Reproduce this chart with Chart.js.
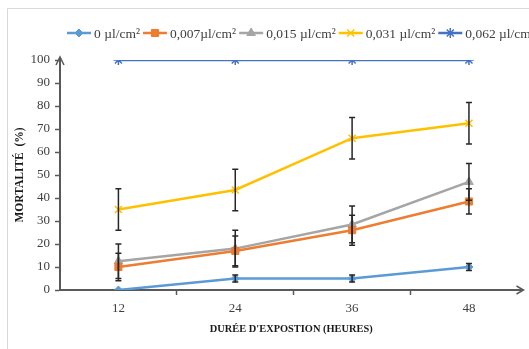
<!DOCTYPE html>
<html>
<head>
<meta charset="utf-8">
<script src="https://cdn.jsdelivr.net/npm/chart.js@4.4.1/dist/chart.umd.min.js"></script>
<style>
  html, body { margin: 0; padding: 0; background: #fff; overflow: hidden; }
  #wrap { position: relative; width: 529px; height: 349px; }
</style>
</head>
<body>
<div id="wrap"><canvas id="mortalityChart"></canvas></div>
<script>
// values
var hours = [12, 24, 36, 48];
var seriesNames = ['0 µl/cm²', '0,007µl/cm²', '0,015 µl/cm²', '0,031 µl/cm²', '0,062 µl/cm²'];
var dose0 = [0, 5, 5, 10];
var dose007 = [10, 17, 26, 38.5];
var dose015 = [12.5, 18, 28.5, 47];
var dose031 = [35, 43.5, 66, 72.5];
var dose062 = [100, 100, 100, 100];
// standard deviations (error bars)
var err0 = [0, 1.5, 1.5, 1.5];
var err007 = [6, 6.5, 6.5, 5.5];
var err015 = [7.5, 8, 8, 8];
var err031 = [9, 9, 9, 9];
var err062 = [0, 0, 0, 0];
var yTicks = [0, 10, 20, 30, 40, 50, 60, 70, 80, 90, 100];

var colors = ['#5B9BD5', '#ED7D31', '#A5A5A5', '#FFC000', '#4472C4'];
var markers = ['rectRot', 'rect', 'triangle', 'crossRot', 'star'];
var radii = [4, 5, 5, 5, 5];
var allValues = [dose0, dose007, dose015, dose031, dose062];
var allErrors = [err0, err007, err015, err031, err062];
var serif = '"Liberation Serif", "Times New Roman", serif';
var axisColor = '#595959';

var datasets = allValues.map(function (vals, i) {
    return {
        label: seriesNames[i],
        data: vals.map(function (v, j) { return { x: hours[j], y: v }; }),
        errors: allErrors[i],
        borderColor: colors[i],
        backgroundColor: colors[i],
        borderWidth: 2.5,
        pointStyle: markers[i],
        pointRadius: radii[i],
        pointBorderWidth: (markers[i] === 'crossRot' || markers[i] === 'star') ? 1.5 : 1,
        tension: 0
    };
});

// in-between tick marks for the category-like x axis
var xTickValues = [];
hours.forEach(function (h, i) {
    xTickValues.push(h);
    if (i < hours.length - 1) xTickValues.push((h + hours[i + 1]) / 2);
});

var framePlugin = {
    id: 'frame',
    beforeDraw: function (chart) {
        var ctx = chart.ctx;
        ctx.save();
        ctx.fillStyle = '#fff';
        ctx.fillRect(0, 0, chart.width, chart.height);
        ctx.strokeStyle = '#d9d9d9';
        ctx.lineWidth = 1;
        ctx.beginPath();
        ctx.moveTo(7.5, chart.height);
        ctx.lineTo(7.5, 8.5);
        ctx.lineTo(chart.width, 8.5);
        ctx.stroke();
        ctx.restore();
    }
};

var errorBarPlugin = {
    id: 'errorBars',
    afterDatasetsDraw: function (chart) {
        var ctx = chart.ctx;
        var xs = chart.scales.x, ys = chart.scales.y;
        ctx.save();
        ctx.strokeStyle = '#262626';
        ctx.lineWidth = 1.5;
        chart.data.datasets.forEach(function (ds) {
            ds.data.forEach(function (p, j) {
                var e = ds.errors[j];
                if (!e) return;
                var x = xs.getPixelForValue(p.x);
                var y1 = ys.getPixelForValue(p.y + e);
                var y2 = ys.getPixelForValue(Math.max(0, p.y - e));
                ctx.beginPath();
                ctx.moveTo(x, y1); ctx.lineTo(x, y2);
                ctx.moveTo(x - 3, y1); ctx.lineTo(x + 3, y1);
                ctx.moveTo(x - 3, y2); ctx.lineTo(x + 3, y2);
                ctx.stroke();
            });
        });
        ctx.restore();
    }
};

var arrowPlugin = {
    id: 'arrows',
    afterDraw: function (chart) {
        var a = chart.chartArea, ctx = chart.ctx;
        ctx.save();
        ctx.strokeStyle = axisColor;
        ctx.lineWidth = 1.5;
        ctx.beginPath();
        ctx.moveTo(a.left, a.top);
        ctx.lineTo(a.left, a.top - 3);
        ctx.moveTo(a.left - 4, a.top + 5);
        ctx.lineTo(a.left, a.top - 3);
        ctx.lineTo(a.left + 4, a.top + 5);
        ctx.moveTo(a.right, a.bottom);
        ctx.lineTo(a.right + 1, a.bottom);
        ctx.moveTo(a.right - 6, a.bottom - 4);
        ctx.lineTo(a.right + 1, a.bottom);
        ctx.lineTo(a.right - 6, a.bottom + 4);
        ctx.stroke();
        ctx.restore();
    }
};

var legendPlugin = {
    id: 'lineLegend',
    afterDraw: function (chart) {
        var ctx = chart.ctx;
        var x = 67, y = 33;
        ctx.save();
        ctx.font = '13.5px ' + serif;
        ctx.textBaseline = 'middle';
        chart.data.datasets.forEach(function (ds) {
            ctx.strokeStyle = ds.borderColor;
            ctx.fillStyle = ds.backgroundColor;
            ctx.lineWidth = 2.5;
            ctx.beginPath();
            ctx.moveTo(x, y); ctx.lineTo(x + 24, y);
            ctx.stroke();
            ctx.lineWidth = ds.pointBorderWidth;
            Chart.helpers.drawPoint(ctx, { pointStyle: ds.pointStyle, radius: ds.pointRadius, rotation: 0, borderWidth: ds.pointBorderWidth }, x + 12, y);
            ctx.fillStyle = '#404040';
            ctx.fillText(ds.label, x + 27, y + 1);
            x += 27 + ctx.measureText(ds.label).width + 3;
        });
        ctx.restore();
    }
};

var ctx = document.getElementById('mortalityChart').getContext('2d');
var mortalityChart = new Chart(ctx, {
    type: 'line',
    data: { datasets: datasets },
    plugins: [framePlugin, errorBarPlugin, arrowPlugin, legendPlugin],
    options: {
        responsive: true,
        maintainAspectRatio: false,
        animation: false,
        layout: { padding: { top: 60, right: 1, left: 0, bottom: 0 } },
        plugins: {
            legend: { display: false },
            tooltip: { enabled: false }
        },
        scales: {
            x: {
                type: 'linear',
                min: 6,
                max: 53.5,
                afterBuildTicks: function (scale) {
                    scale.ticks = xTickValues.map(function (v) { return { value: v }; });
                },
                afterFit: function (scale) { scale.height = 59; },
                ticks: {
                    autoSkip: false,
                    maxRotation: 0,
                    padding: 6,
                    color: '#404040',
                    font: { family: serif, size: 13 },
                    callback: function (v) { return hours.indexOf(v) >= 0 ? String(v) : ''; }
                },
                grid: {
                    drawOnChartArea: false,
                    tickLength: 5,
                    tickWidth: 1.5,
                    tickColor: function (c) { return c.tick && hours.indexOf(c.tick.value) >= 0 ? 'rgba(0,0,0,0)' : axisColor; }
                },
                border: { color: axisColor, width: 2 },
                title: {
                    display: true,
                    text: "DURÉE D'EXPOSTION (HEURES)",
                    color: '#1a1a1a',
                    font: { family: serif, size: 10.4, weight: 'bold' },
                    padding: 13
                }
            },
            y: {
                min: 0,
                max: 100,
                afterBuildTicks: function (scale) {
                    scale.ticks = yTicks.map(function (v) { return { value: v }; });
                },
                afterFit: function (scale) { scale.width = 60; },
                ticks: {
                    padding: 5,
                    color: '#404040',
                    font: { family: serif, size: 13 }
                },
                grid: {
                    drawOnChartArea: false,
                    tickLength: 5,
                    tickWidth: 1.5,
                    tickColor: axisColor
                },
                border: { color: axisColor, width: 2 },
                title: {
                    display: true,
                    text: 'MORTALITÉ  (%)',
                    color: '#1a1a1a',
                    font: { family: serif, size: 11.5, weight: 'bold' },
                    padding: 13
                }
            }
        }
    }
});
</script>
</body>
</html>
